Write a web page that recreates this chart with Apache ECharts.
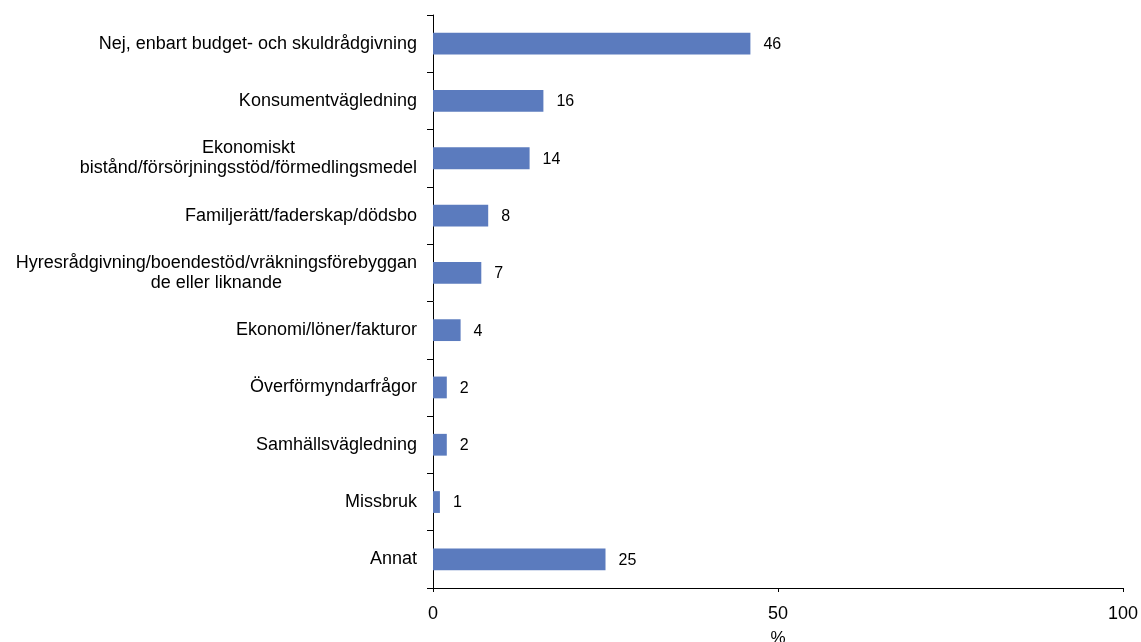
<!DOCTYPE html>
<html>
<head>
<meta charset="utf-8">
<title>Andra verksamheter</title>
<script src="https://cdn.jsdelivr.net/npm/echarts@6/dist/echarts.min.js"></script>
<style>
  html, body { margin: 0; padding: 0; background: #ffffff; }
  #chart { width: 1141px; height: 642px; }
</style>
</head>
<body>
<div id="chart"></div>
<script>
// Categories, top to bottom
const categories = [
  'Nej, enbart budget- och skuldrådgivning',
  'Konsumentvägledning',
  'Ekonomiskt\nbistånd/försörjningsstöd/förmedlingsmedel',
  'Familjerätt/faderskap/dödsbo',
  'Hyresrådgivning/boendestöd/vräkningsförebyggan\nde eller liknande',
  'Ekonomi/löner/fakturor',
  'Överförmyndarfrågor',
  'Samhällsvägledning',
  'Missbruk',
  'Annat'
];

// Share in percent, same order as categories
const values = [46, 16, 14, 8, 7, 4, 2, 2, 1, 25];

const xTicks = [0, 50, 100];
const xAxisName = '%';

const font = 'Liberation Sans, Arial, sans-serif';
const chart = echarts.init(document.getElementById('chart'), null, { renderer: 'canvas' });

// Wrapped labels: lines centred on each other, block right-aligned to the axis
function categoryLabel(text) {
  if (text.indexOf('\n') < 0) return text;
  return text.split('\n').map(line => '{c|' + line + '}').join('\n');
}

chart.setOption({
  animation: false,
  backgroundColor: '#ffffff',
  grid: {
    left: 433, right: 18, top: 15, bottom: 54,
    containLabel: false,
    outerBoundsMode: 'none'
  },
  xAxis: {
    type: 'value',
    min: xTicks[0],
    max: xTicks[xTicks.length - 1],
    interval: xTicks[1] - xTicks[0],
    name: xAxisName,
    nameLocation: 'middle',
    nameGap: 42,
    nameTextStyle: { color: '#000', fontSize: 17, fontFamily: font },
    axisLine: { show: true, lineStyle: { color: '#000', width: 1 } },
    axisTick: { show: true, length: 4, lineStyle: { color: '#000' } },
    axisLabel: { color: '#000', fontSize: 18, fontFamily: font, margin: 17 },
    splitLine: { show: false }
  },
  yAxis: {
    type: 'category',
    data: categories,
    inverse: true,
    axisLine: { show: true, lineStyle: { color: '#000', width: 1 } },
    axisTick: { show: true, length: 6, alignWithLabel: false, lineStyle: { color: '#000' } },
    axisLabel: {
      color: '#000', fontSize: 18, fontFamily: font, margin: 16,
      lineHeight: 20, align: 'right',
      formatter: categoryLabel,
      rich: {
        c: { align: 'center', color: '#000', fontSize: 18, fontFamily: font, lineHeight: 20 }
      }
    },
    splitLine: { show: false }
  },
  series: [{
    type: 'bar',
    data: values,
    barWidth: '38%',
    itemStyle: { color: '#5b7bbe' },
    label: {
      show: true,
      position: 'right',
      distance: 13,
      color: '#000',
      fontSize: 16,
      fontFamily: font,
      offset: [0, 1]
    }
  }]
});
</script>
</body>
</html>
